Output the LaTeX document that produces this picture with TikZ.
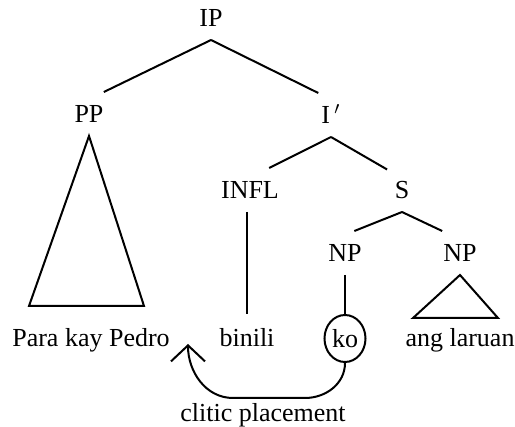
\documentclass[tikz,border=0pt]{standalone}
\usepackage{fontspec}
\setmainfont{Liberation Serif}
\usetikzlibrary{shapes.geometric}
\usetikzlibrary{arrows.meta}
\tikzset{x=0.5pt, y=-0.5pt,
    every node/.style={
        font=\fontsize{13pt}{15pt}\selectfont},
    cat/.style={
        minimum height=21pt,
        text height=8.6pt,
        text depth=0pt},
    leaf/.style={
        anchor=base,
        inner ysep=7pt},
    clitic/.style={
        ellipse,
        draw,
        inner sep=0pt,
        minimum width=20.5pt,
        minimum height=23.5pt},
    move/.style={
        -{Straight Barb[length=8pt,width=17pt]}}}

\begin{document}
\begin{tikzpicture}[line width=1pt]
        \useasboundingbox (0,0) rectangle (515,427);
        \node[cat] (ip) at (211,18) {IP};
        \node[cat] (pp) at (89,114) {PP};
        \node[cat] (ibar) at (331,115) {I\,$'$};
        \node[cat] (infl) at (250,190) {INFL};
        \node[cat] (s) at (402,190) {S};
        \node[cat] (np1) at (345,253) {NP};
        \node[cat] (np2) at (460,253) {NP};
        \node[leaf] (pedro) at (91,347) {Para kay Pedro};
        \node[leaf] (binili) at (247,347) {binili};
        \node[clitic] (ko) at (345,338.5) {ko};
        \node[leaf] (laruan) at (460,347) {ang laruan};
        \node (label) at (263,415) {clitic placement};
        \coordinate (landing) at (188,344);

        \draw (ip.south) -- (pp.56);
        \draw (ip.south) -- (ibar.120);
        \draw (ibar.south) -- (infl.49);
        \draw (ibar.south) -- (s.126);
        \draw (s.south) -- (np1.67);
        \draw (s.south) -- (np2.129);
        \draw (infl.south -| binili.north) -- (binili.north);
        \draw (np1.south) -- (ko.north);
        \draw (pp.south) -- (29,306) -- (144,306) -- cycle;
        \draw (np2.south) -- (413,318) -- (498,318) -- cycle;
        \draw[move] (ko.south) to[out=-90,in=0] ++(-40,35) -- ++(-72,0)
            to[out=180,in=-90] (landing);
\end{tikzpicture}
\end{document}
